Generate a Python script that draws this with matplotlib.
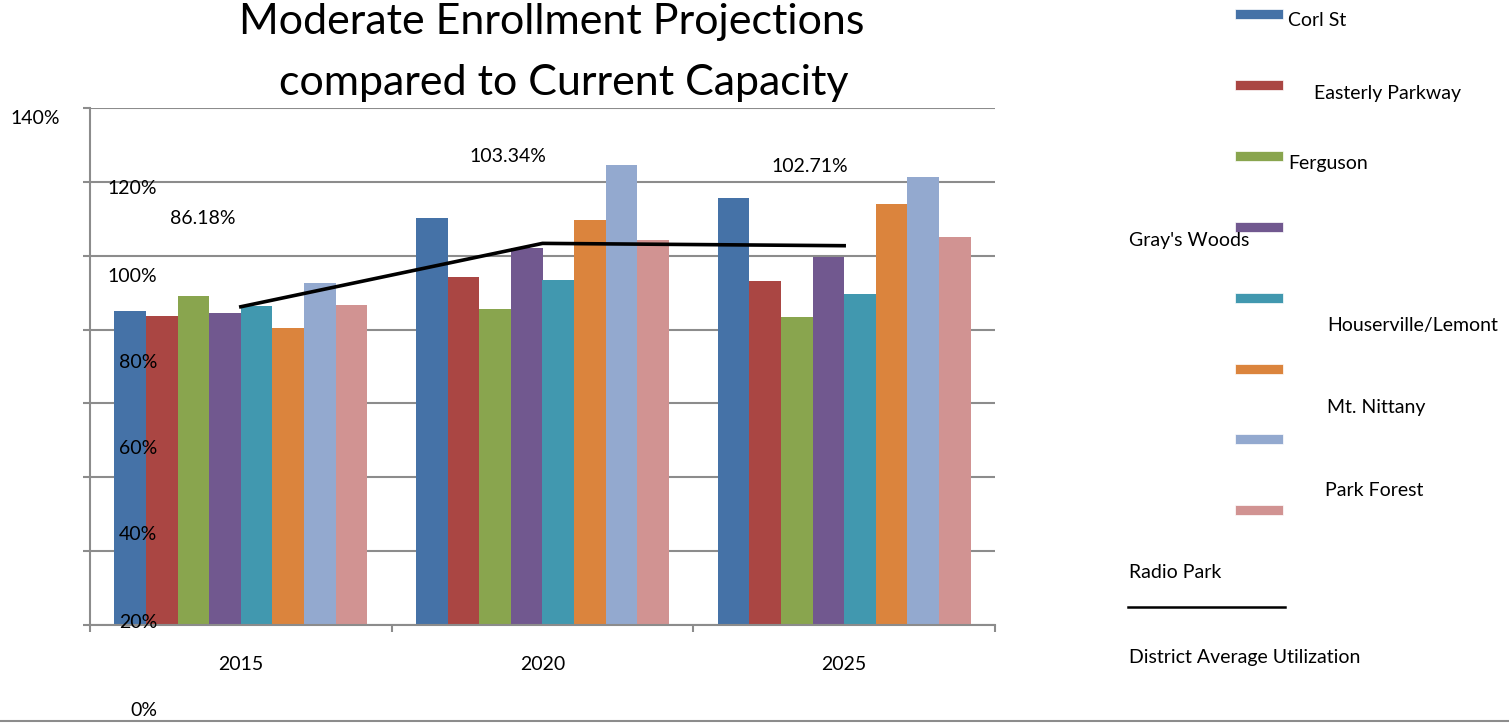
import numpy as np
import matplotlib
matplotlib.use("Agg")
import matplotlib.pyplot as plt
from matplotlib.patches import Rectangle
from matplotlib.lines import Line2D

# data
years = ["2015", "2020", "2025"]
schools = ["Corl St", "Easterly Parkway", "Ferguson", "Gray's Woods",
           "Houserville/Lemont", "Mt. Nittany", "Park Forest", "Radio Park"]
corl_st = [85.0, 110.2, 115.6]
easterly = [83.7, 94.2, 93.1]
ferguson = [89.1, 85.6, 83.4]
grays_woods = [84.5, 102.1, 99.6]
houserville = [86.4, 93.4, 89.6]
mt_nittany = [80.4, 109.7, 114.0]
park_forest = [92.6, 124.6, 121.3]
radio_park = [86.7, 104.3, 105.1]
district_avg = [86.18, 103.34, 102.71]
avg_labels = ["86.18%", "103.34%", "102.71%"]
ytick_labels = ["0%", "20%", "40%", "60%", "80%", "100%", "120%", "140%"]

colors = ["#4572A7", "#AA4643", "#89A54E", "#71588F",
          "#4198AF", "#DB843D", "#93A9CF", "#D19392"]
series = [corl_st, easterly, ferguson, grays_woods,
          houserville, mt_nittany, park_forest, radio_park]

plt.rcParams['font.family'] = ['Lato', 'DejaVu Sans']

W, H = 1509, 723
fig = plt.figure(figsize=(W / 100, H / 100), dpi=100)
ax = fig.add_axes([90 / W, 1 - 625 / H, (995 - 90) / W, (625 - 108) / H])

x = np.arange(len(years))
bw = 0.1047
for i, (vals, c) in enumerate(zip(series, colors)):
    ax.bar(x + (i - 3.5) * bw, vals, bw, color=c, zorder=2)

ax.plot(x, district_avg, color="black", lw=2.6, zorder=3)

grid_c = "#8c8c8c"
ax.set_xlim(-0.5, 2.5)
ax.set_ylim(0, 140)
ax.set_yticks(np.arange(0, 141, 20))
ax.set_yticklabels([])
ax.yaxis.grid(True, color=grid_c, lw=1.5, zorder=0)
ax.set_axisbelow(True)
ax.tick_params(axis="y", length=5, width=1.5, color=grid_c)
ax.set_xticks(x)
ax.set_xticklabels(years, fontsize=14)
ax.tick_params(axis="x", which="major", length=0, pad=22)
ax.set_xticks([-0.5, 0.5, 1.5, 2.5], minor=True)
ax.tick_params(axis="x", which="minor", length=5, width=1.5, color=grid_c)
for s in ["top", "right"]:
    ax.spines[s].set_visible(False)
for s in ["left", "bottom"]:
    ax.spines[s].set_color(grid_c)
    ax.spines[s].set_linewidth(1.5)


def px(xp, yp):
    return xp / W, 1 - yp / H


# y labels, displaced as in the original
ylab_pos = [(157, 710), (157, 622), (157, 535), (157, 449), (157, 362),
            (157, 276), (157, 189), (60, 118)]
for lab, (xp, yp) in zip(ytick_labels, ylab_pos):
    fig.text(*px(xp, yp), lab, ha="right", va="center", fontsize=14)

# district average labels
lab_pos = [(203, 218), (508, 157), (810, 166)]
for lab, (xp, yp) in zip(avg_labels, lab_pos):
    fig.text(*px(xp, yp), lab, ha="center", va="center", fontsize=14)

# title
fig.text(*px(552, 34), "Moderate Enrollment Projections", ha="center",
         va="baseline", fontsize=31)
fig.text(*px(564, 95), "compared to Current Capacity", ha="center",
         va="baseline", fontsize=31)

# legend (scattered layout)
patch_y = [14, 85, 156, 227, 298, 369, 439, 510]
for c, yp in zip(colors, patch_y):
    fig.patches.append(Rectangle(px(1235, yp + 5), 48 / W, 10 / H,
                                 transform=fig.transFigure, color=c,
                                 ec="white", lw=0.5))
text_pos = [(1288, 21), (1314, 93), (1288, 163), (1129, 241),
            (1327, 326), (1327, 408), (1325, 491), (1129, 573)]
for name, (xp, yp) in zip(schools, text_pos):
    fig.text(*px(xp, yp), name, ha="left", va="center", fontsize=14)
fig.lines.append(Line2D([1128 / W, 1285 / W], [1 - 607 / H] * 2,
                        transform=fig.transFigure, color="black", lw=1.8))
fig.text(*px(1129, 658), "District Average Utilization", ha="left",
         va="center", fontsize=14)

# bottom border
fig.lines.append(Line2D([0, 1], [1 - 721 / H] * 2, transform=fig.transFigure,
                        color=grid_c, lw=1.5))

fig.savefig("out.png", dpi=100)
